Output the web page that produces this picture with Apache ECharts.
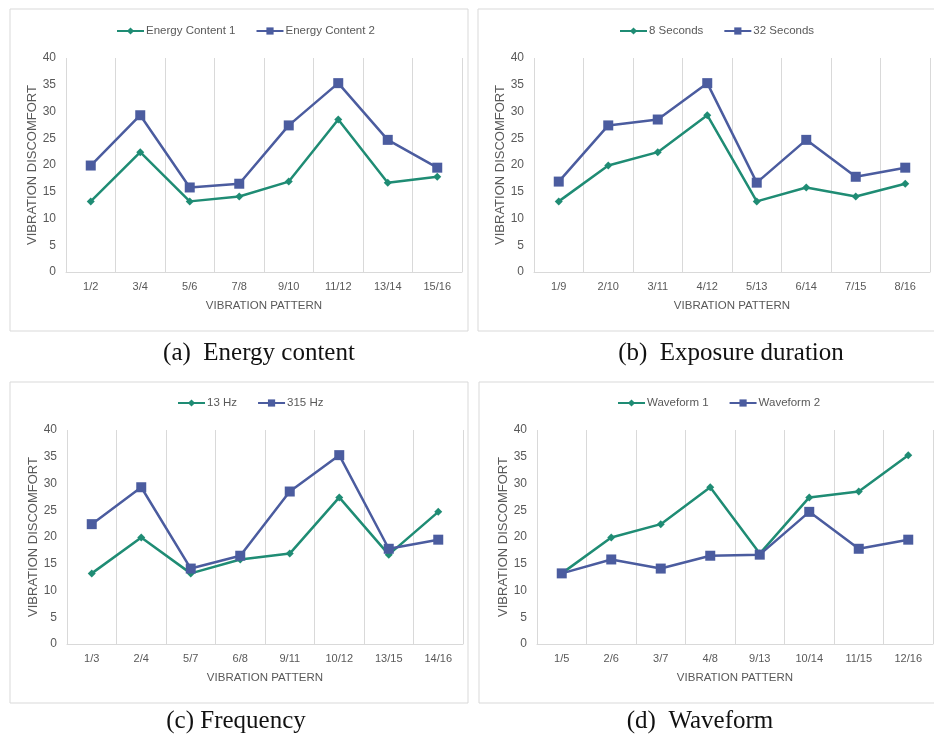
<!DOCTYPE html>
<html>
<head>
<meta charset="utf-8">
<script src="https://cdn.jsdelivr.net/npm/echarts@6/dist/echarts.min.js"></script>
<style>
  html, body { margin: 0; padding: 0; background: #fff; }
  #chart { width: 934px; height: 736px; }
</style>
</head>
<body>
<div id="chart"></div>
<script>
// categories for each panel
var catsA = ['1/2', '3/4', '5/6', '7/8', '9/10', '11/12', '13/14', '15/16'];
var catsB = ['1/9', '2/10', '3/11', '4/12', '5/13', '6/14', '7/15', '8/16'];
var catsC = ['1/3', '2/4', '5/7', '6/8', '9/11', '10/12', '13/15', '14/16'];
var catsD = ['1/5', '2/6', '3/7', '4/8', '9/13', '10/14', '11/15', '12/16'];

// values
var energy1 = [13.2, 22.4, 13.2, 14.1, 16.9, 28.5, 16.7, 17.8];
var energy2 = [19.9, 29.3, 15.8, 16.5, 27.4, 35.3, 24.7, 19.5];
var sec8 = [13.2, 19.9, 22.4, 29.3, 13.2, 15.8, 14.1, 16.5];
var sec32 = [16.9, 27.4, 28.5, 35.3, 16.7, 24.7, 17.8, 19.5];
var hz13 = [13.2, 19.9, 13.2, 15.8, 16.9, 27.4, 16.7, 24.7];
var hz315 = [22.4, 29.3, 14.1, 16.5, 28.5, 35.3, 17.8, 19.5];
var wave1 = [13.2, 19.9, 22.4, 29.3, 16.9, 27.4, 28.5, 35.3];
var wave2 = [13.2, 15.8, 14.1, 16.5, 16.7, 24.7, 17.8, 19.5];

var captions = ['(a)  Energy content', '(b)  Exposure duration', '(c) Frequency', '(d)  Waveform'];

var GREEN = '#1f8c74';
var BLUE = '#4b5c9f';
var TXT = '#595959';
var GRIDC = '#d9d9d9';

var panels = [
  { cats: catsA, s: [['Energy Content 1', energy1], ['Energy Content 2', energy2]], left: 66, top: 58 },
  { cats: catsB, s: [['8 Seconds', sec8], ['32 Seconds', sec32]], left: 534, top: 58 },
  { cats: catsC, s: [['13 Hz', hz13], ['315 Hz', hz315]], left: 67, top: 430 },
  { cats: catsD, s: [['Waveform 1', wave1], ['Waveform 2', wave2]], left: 537, top: 430 }
];
var legendPos = [
  { left: 116, top: 25 },
  { left: 619, top: 25 },
  { left: 177, top: 397 },
  { left: 617, top: 397 }
];
var captionPos = [[259, 353], [731, 353], [236, 721], [700, 721]];
var boxes = [[10, 9, 458, 322], [478, 9, 470, 322], [10, 382, 458, 321], [479, 382, 470, 321]];

var grid = [], xAxis = [], yAxis = [], series = [], legend = [], graphic = [];

panels.forEach(function (p, i) {
  grid.push({ left: p.left, top: p.top, width: 396, height: 214 });
  xAxis.push({
    type: 'category', gridIndex: i, data: p.cats, boundaryGap: true,
    name: 'VIBRATION PATTERN', nameLocation: 'middle', nameGap: 28,
    nameTextStyle: { color: TXT, fontSize: 11.5, fontFamily: 'Liberation Sans' },
    axisLine: { lineStyle: { color: GRIDC } },
    axisTick: { show: false },
    axisLabel: { color: TXT, fontSize: 11, margin: 9, fontFamily: 'Liberation Sans' },
    splitLine: { show: true, lineStyle: { color: GRIDC, width: 1 } }
  });
  yAxis.push({
    type: 'value', gridIndex: i, min: 0, max: 40, interval: 5,
    name: 'VIBRATION DISCOMFORT', nameLocation: 'middle', nameGap: 26,
    nameTextStyle: { color: TXT, fontSize: 13, fontFamily: 'Liberation Sans' },
    axisLine: { show: false },
    axisTick: { show: false },
    axisLabel: { color: TXT, fontSize: 12, margin: 10, fontFamily: 'Liberation Sans' },
    splitLine: { show: false }
  });
  p.s.forEach(function (s, k) {
    series.push({
      name: s[0], type: 'line', xAxisIndex: i, yAxisIndex: i, data: s[1],
      symbol: k === 0 ? 'diamond' : 'rect',
      symbolSize: k === 0 ? 8 : 10,
      itemStyle: { color: k === 0 ? GREEN : BLUE },
      lineStyle: { width: 2.5, color: k === 0 ? GREEN : BLUE },
      animation: false
    });
  });
  legend.push({
    data: [p.s[0][0], p.s[1][0]],
    left: legendPos[i].left, top: legendPos[i].top, padding: 0,
    itemWidth: 27, itemHeight: 9, itemGap: 20,
    textStyle: { color: TXT, fontSize: 11.5, fontFamily: 'Liberation Sans', padding: [0, 0, 0, -3] }
  });
  graphic.push({
    type: 'rect', silent: true, z: -1,
    shape: { x: boxes[i][0], y: boxes[i][1], width: boxes[i][2], height: boxes[i][3] },
    style: { fill: 'none', stroke: '#d9d9d9', lineWidth: 1 }
  });
  graphic.push({
    type: 'text', x: captionPos[i][0], y: captionPos[i][1],
    style: {
      text: captions[i], fill: '#111', fontSize: 25,
      fontFamily: 'Liberation Serif', align: 'center', verticalAlign: 'middle'
    }
  });
});

var myChart = echarts.init(document.getElementById('chart'));
myChart.setOption({
  animation: false,
  backgroundColor: '#fff',
  grid: grid, xAxis: xAxis, yAxis: yAxis,
  legend: legend, series: series, graphic: graphic
});
</script>
</body>
</html>
